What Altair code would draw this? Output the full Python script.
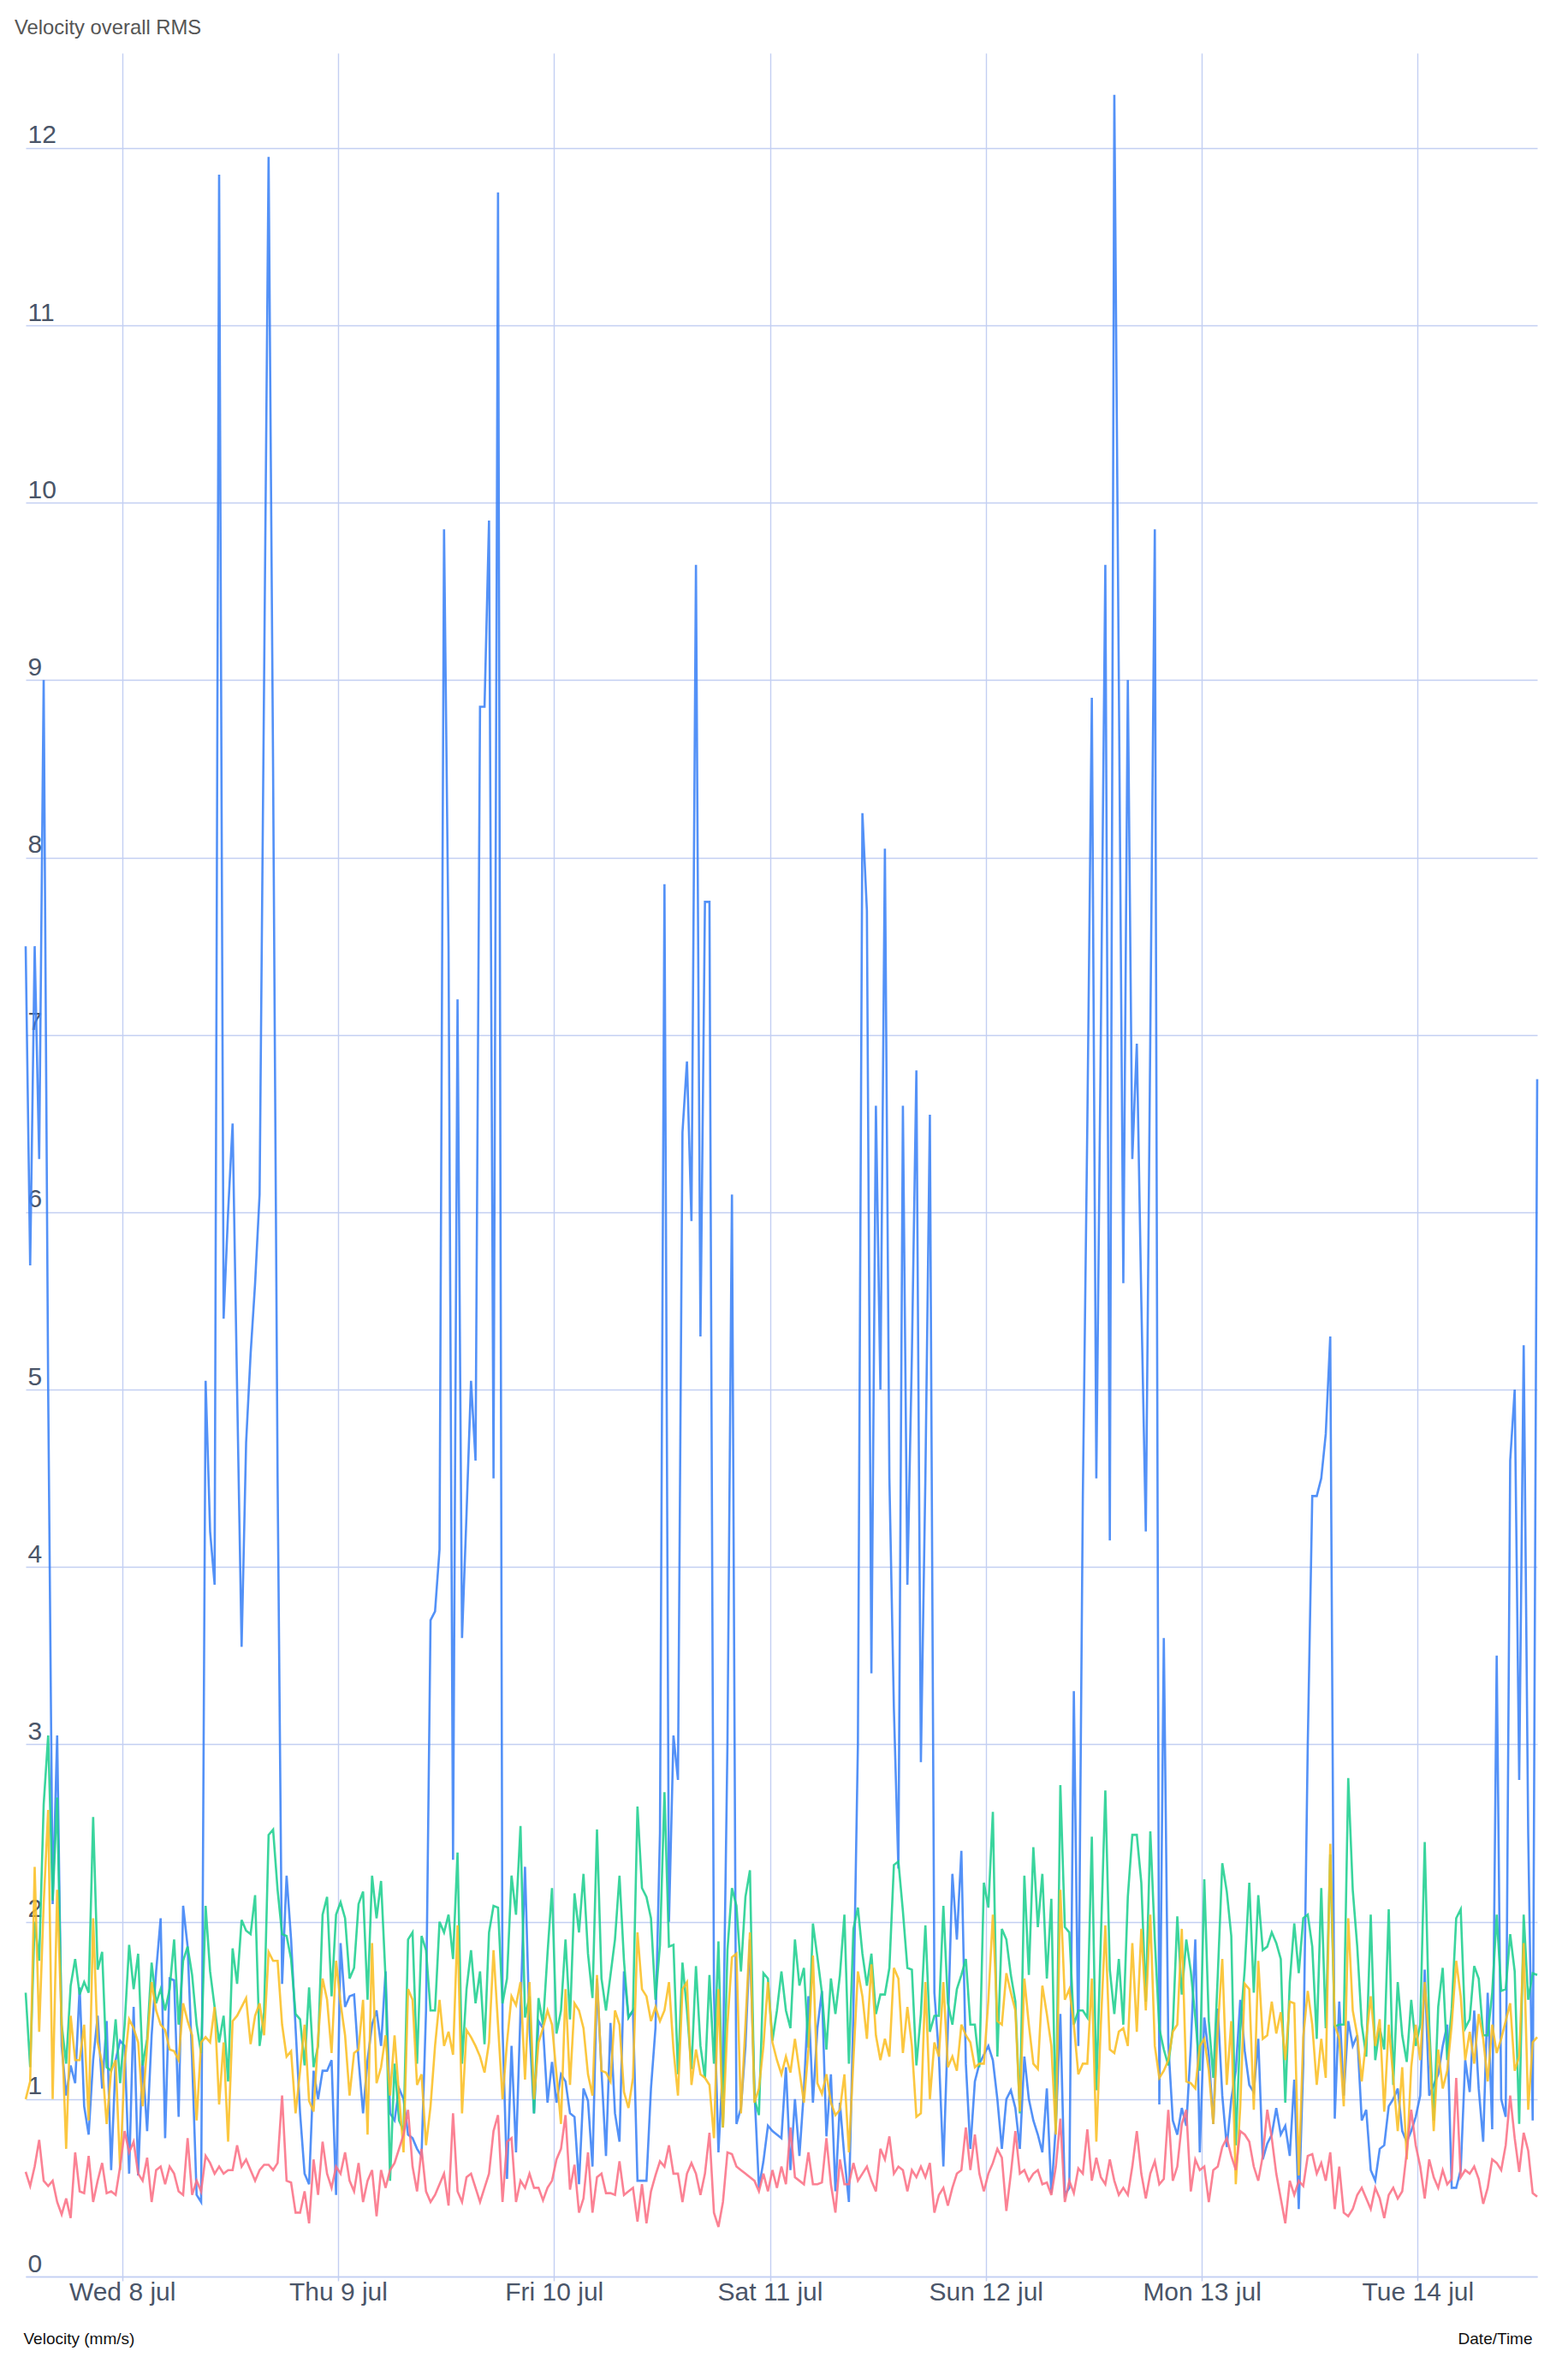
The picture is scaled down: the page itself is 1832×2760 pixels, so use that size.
import altair as alt
import pandas as pd

# ---- data, one sample every 30 min ----
START = "2020-07-07 13:17:00"
N_POINTS = 337

SERIES = ["Sensor 1", "Sensor 2", "Sensor 3", "Sensor 4"]
COLORS = ["#3b82f6", "#1fcf90", "#fbbf24", "#fb7185"]

BLUE = [
    7.5, 5.7, 7.5, 6.3, 9.0, 5.0, 2.1, 3.05, 1.3, 1.02,
    1.19, 1.09, 1.63, 0.96, 0.8, 1.22, 1.47, 1.06, 1.44, 0.60,
    1.22, 1.33, 1.30, 0.58, 1.52, 0.57, 1.22, 0.82, 1.36, 1.72,
    2.02, 0.78, 1.68, 1.67, 0.90, 2.09, 1.86, 1.22, 0.46, 0.42,
    5.05, 4.2, 3.9, 11.85, 5.4, 6.0, 6.5, 5.0, 3.55, 4.7,
    5.2, 5.6, 6.1, 9.0, 11.95, 8.5, 4.5, 1.65, 2.26, 1.9,
    1.4, 0.92, 0.58, 0.52, 1.16, 1.0, 1.16, 1.16, 1.22, 0.46,
    1.88, 1.52, 1.58, 1.59, 1.22, 0.92, 1.22, 1.42, 1.5, 1.3,
    1.72, 0.92, 0.88, 1.06, 1.0, 0.8, 0.78, 0.72, 0.68, 1.5,
    3.7, 3.75, 4.1, 9.85, 7.5, 2.35, 7.2, 3.6, 4.3, 5.05,
    4.6, 8.85, 8.85, 9.9, 4.5, 11.75, 1.4, 0.55, 1.3, 0.70,
    1.5, 2.31, 1.4, 0.92, 1.44, 1.40, 0.98, 1.21, 0.98, 1.14,
    1.1, 0.92, 0.9, 0.52, 1.06, 0.99, 0.62, 1.68, 1.16, 0.68,
    1.43, 0.92, 0.76, 1.72, 1.46, 1.5, 0.54, 0.54, 0.54, 1.06,
    1.4, 2.5, 7.85, 2.0, 3.05, 2.8, 6.45, 6.85, 5.95, 9.65,
    5.3, 7.75, 7.75, 1.6, 0.7, 1.2, 3.0, 6.1, 0.86, 0.95,
    1.3, 1.9, 1.05, 0.5, 0.65, 0.85, 0.82, 0.8, 0.78, 1.18,
    0.6, 1.0, 0.68, 1.05, 1.58, 0.98, 1.4, 1.61, 0.79, 1.14,
    0.48, 0.98, 0.67, 0.42, 1.5, 3.0, 8.25, 7.7, 3.4, 6.6,
    5.0, 8.05, 4.5, 3.2, 2.3, 6.6, 3.9, 5.2, 6.8, 2.9,
    4.5, 6.55, 1.6, 1.25, 0.62, 1.4, 2.27, 1.9, 2.4, 1.2,
    0.72, 1.1, 1.2, 1.25, 1.3, 1.22, 1.0, 0.72, 1.0, 1.05,
    0.95, 0.72, 1.24, 1.0, 0.88, 0.8, 0.7, 1.06, 0.47, 0.85,
    1.48, 0.46, 0.5, 3.3, 1.3, 4.4, 6.5, 8.9, 4.5, 7.0,
    9.65, 4.15, 12.3, 9.0, 5.6, 9.0, 6.3, 6.95, 5.5, 4.2,
    7.0, 9.85, 0.97, 3.6, 1.31, 0.88, 0.8, 0.95, 0.85, 1.3,
    1.9, 0.7, 1.46, 1.25, 0.86, 1.51, 1.02, 0.73, 1.0, 1.16,
    1.56, 1.27, 1.08, 1.04, 1.34, 0.66, 0.75, 0.8, 0.95, 0.8,
    0.85, 0.68, 1.11, 0.38, 1.2, 3.0, 4.4, 4.4, 4.5, 4.75,
    5.3, 0.89, 1.55, 1.02, 1.44, 1.3, 1.36, 0.88, 0.94, 0.6,
    0.54, 0.72, 0.74, 0.96, 1.0, 1.06, 0.82, 0.76, 0.82, 0.9,
    1.02, 1.73, 1.02, 1.08, 1.14, 1.3, 1.42, 0.5, 0.5, 0.6,
    1.22, 1.04, 1.5, 1.06, 0.76, 1.6, 0.83, 3.5, 1.0, 0.9,
    4.6, 5.0, 2.8, 5.25, 2.5, 0.88, 6.75,
]

GREEN = [
    1.60, 1.18, 2.0, 1.78, 2.66, 3.05, 2.12, 2.7, 1.42, 1.2,
    1.64, 1.79, 1.59, 1.66, 1.6, 2.59, 1.73, 1.83, 1.18, 1.16,
    1.45, 1.09, 1.42, 1.87, 1.62, 1.82, 1.19, 1.34, 1.77, 1.54,
    1.62, 1.5, 1.62, 1.9, 1.42, 1.78, 1.86, 1.7, 1.42, 1.26,
    2.09, 1.72, 1.52, 1.32, 1.47, 1.1, 1.85, 1.65, 2.01, 1.95,
    1.93, 2.15, 1.3, 1.49, 2.49, 2.52, 2.18, 1.93, 1.92, 1.79,
    1.48, 1.45, 1.19, 1.63, 1.18, 1.3, 2.04, 2.14, 1.58, 2.04,
    2.11, 2.02, 1.68, 1.74, 2.1, 2.17, 1.56, 2.26, 2.02, 2.23,
    1.68, 0.54, 1.2, 0.88, 0.82, 1.9, 1.94, 1.2, 1.92, 1.84,
    1.5, 1.5, 2.0, 1.94, 2.04, 1.79, 2.39, 1.2, 1.62, 1.84,
    1.54, 1.72, 1.31, 1.94, 2.09, 2.08, 1.54, 1.68, 2.26, 2.04,
    2.54, 1.46, 1.58, 0.92, 1.57, 1.42, 1.82, 2.19, 1.37, 1.5,
    1.9, 1.45, 2.16, 1.94, 2.27, 1.82, 1.57, 2.52, 1.68, 1.5,
    1.7, 1.9, 2.26, 1.78, 1.46, 1.5, 2.65, 2.19, 2.14, 2.02,
    1.56, 1.87, 2.73, 1.86, 1.87, 1.14, 1.77, 1.5, 1.17, 1.75,
    1.3, 1.12, 1.7, 1.2, 1.89, 0.84, 1.84, 2.19, 2.09, 1.72,
    2.14, 2.29, 1.0, 0.91, 1.71, 1.68, 1.33, 1.5, 1.72, 1.5,
    1.4, 1.9, 1.64, 1.74, 1.29, 1.99, 1.8, 1.6, 1.28, 1.68,
    1.48, 1.7, 2.04, 1.2, 1.96, 2.08, 1.82, 1.64, 1.82, 1.48,
    1.59, 1.59, 1.74, 2.32, 2.34, 2.06, 1.74, 1.73, 1.19, 1.48,
    1.98, 1.38, 1.47, 1.47, 2.09, 1.54, 1.42, 1.62, 1.7, 1.79,
    1.42, 1.42, 1.18, 2.22, 2.08, 2.62, 1.24, 1.96, 1.9, 1.7,
    1.55, 0.92, 2.26, 1.7, 2.42, 1.97, 2.27, 1.68, 2.13, 0.82,
    2.77, 1.97, 1.94, 1.42, 1.5, 1.5, 1.46, 2.48, 1.05, 1.9,
    2.74, 1.73, 1.48, 1.79, 1.42, 2.14, 2.49, 2.49, 2.22, 1.55,
    2.51, 1.9, 1.4, 1.28, 1.19, 1.4, 2.03, 1.59, 1.9, 1.72,
    1.46, 1.16, 2.24, 1.44, 1.12, 1.7, 2.33, 2.17, 1.92, 0.74,
    1.4, 1.74, 2.22, 1.6, 2.15, 1.84, 1.86, 1.94, 1.88, 1.79,
    0.98, 1.66, 1.99, 1.71, 2.02, 2.04, 1.86, 1.34, 2.19, 1.4,
    2.38, 1.41, 1.42, 1.42, 2.81, 2.18, 1.86, 1.42, 1.24, 2.04,
    1.22, 1.4, 1.28, 2.07, 1.08, 1.66, 1.36, 1.21, 1.56, 1.3,
    1.42, 2.45, 1.42, 0.88, 1.52, 1.74, 1.22, 1.51, 2.02, 2.07,
    1.4, 1.45, 1.75, 1.68, 1.36, 1.36, 1.6, 2.04, 1.61, 1.62,
    1.93, 1.72, 0.86, 2.04, 1.56, 1.71, 1.7,
]

YELLOW = [
    1.0, 1.1, 2.31, 1.38, 2.1, 2.63, 1.0, 2.18, 1.42, 0.72,
    1.47, 1.22, 1.22, 1.42, 0.88, 2.02, 1.32, 1.2, 0.86, 1.16,
    1.22, 0.6, 1.2, 1.45, 1.4, 1.32, 0.96, 1.3, 1.66, 1.5,
    1.42, 1.39, 1.28, 1.27, 1.22, 1.54, 1.44, 1.36, 0.88, 1.32,
    1.35, 1.32, 1.52, 0.97, 1.32, 0.76, 1.44, 1.47, 1.52, 1.57,
    1.31, 1.47, 1.54, 1.36, 1.83, 1.78, 1.78, 1.42, 1.24, 1.27,
    0.92, 1.16, 1.42, 0.99, 0.93, 1.34, 1.68, 1.56, 1.26, 1.78,
    1.54, 1.36, 1.02, 1.26, 1.28, 1.56, 0.8, 1.88, 1.09, 1.18,
    1.36, 1.02, 1.36, 1.02, 0.7, 1.62, 1.56, 1.08, 1.14, 0.74,
    0.96, 1.3, 1.56, 1.3, 1.38, 1.25, 1.98, 0.92, 1.39, 1.35,
    1.3, 1.24, 1.15, 1.32, 1.84, 1.42, 1.0, 1.32, 1.58, 1.53,
    1.66, 1.11, 1.66, 1.0, 1.32, 1.4, 1.5, 1.42, 1.14, 0.86,
    1.62, 1.08, 1.54, 1.5, 1.4, 1.14, 1.02, 1.7, 1.16, 1.15,
    1.1, 1.5, 1.42, 1.04, 0.95, 1.12, 1.94, 1.62, 1.58, 1.44,
    1.52, 1.44, 1.5, 1.66, 1.28, 1.02, 1.62, 1.66, 1.08, 1.28,
    1.14, 1.12, 1.08, 0.78, 1.62, 0.84, 1.42, 1.8, 1.82, 0.92,
    1.42, 1.94, 0.98, 1.06, 1.3, 1.66, 1.32, 1.22, 1.14, 1.24,
    1.15, 1.34, 1.16, 0.98, 1.28, 1.81, 1.09, 1.03, 1.14, 0.98,
    0.91, 0.94, 1.14, 0.7, 1.22, 1.72, 1.58, 1.34, 1.76, 1.36,
    1.22, 1.34, 1.24, 1.74, 1.68, 1.26, 1.52, 1.3, 0.9, 0.92,
    1.66, 1.0, 1.32, 1.24, 1.66, 1.18, 1.24, 1.16, 1.42, 1.36,
    1.32, 1.18, 1.2, 1.2, 1.56, 2.04, 1.44, 1.42, 1.71, 1.6,
    1.5, 0.93, 1.68, 1.42, 1.2, 1.17, 1.64, 1.48, 1.3, 0.8,
    2.18, 1.56, 1.62, 1.42, 1.14, 1.2, 1.2, 1.68, 0.76, 1.42,
    1.98, 1.28, 1.26, 1.38, 1.4, 1.3, 1.88, 1.38, 1.96, 1.5,
    2.04, 1.3, 1.12, 1.16, 1.22, 1.38, 1.42, 1.96, 1.1, 1.09,
    1.06, 1.3, 1.34, 1.16, 0.86, 1.4, 1.79, 1.08, 1.44, 0.52,
    0.96, 1.65, 1.62, 0.94, 1.78, 1.34, 1.36, 1.55, 1.37, 1.49,
    1.22, 1.55, 1.54, 0.57, 1.35, 1.61, 1.42, 1.08, 1.34, 1.12,
    2.44, 1.42, 1.34, 0.96, 2.02, 1.5, 1.36, 1.1, 1.34, 1.58,
    1.3, 1.45, 0.93, 1.42, 1.12, 0.82, 1.18, 0.66, 1.18, 1.42,
    1.22, 1.66, 1.32, 0.82, 1.28, 1.06, 1.16, 1.42, 1.78, 1.58,
    1.22, 1.38, 1.2, 1.48, 1.34, 1.1, 1.42, 1.26, 1.34, 1.44,
    1.54, 1.16, 1.24, 1.88, 0.94, 1.32, 1.35,
]

RED = [
    0.59, 0.51, 0.62, 0.77, 0.54, 0.51, 0.54, 0.42, 0.35, 0.44,
    0.33, 0.7, 0.48, 0.47, 0.68, 0.42, 0.54, 0.64, 0.47, 0.48,
    0.46, 0.62, 0.82, 0.7, 0.76, 0.58, 0.54, 0.67, 0.42, 0.6,
    0.62, 0.52, 0.62, 0.58, 0.48, 0.46, 0.78, 0.46, 0.54, 0.48,
    0.68, 0.64, 0.58, 0.62, 0.58, 0.6, 0.6, 0.74, 0.62, 0.66,
    0.6, 0.54, 0.6, 0.63, 0.63, 0.6, 0.64, 1.02, 0.54, 0.53,
    0.36, 0.36, 0.48, 0.3, 0.66, 0.46, 0.76, 0.58, 0.5, 0.62,
    0.58, 0.7, 0.54, 0.48, 0.64, 0.42, 0.54, 0.6, 0.34, 0.6,
    0.5, 0.6, 0.64, 0.72, 0.8, 0.94, 0.62, 0.48, 0.72, 0.48,
    0.42, 0.46, 0.52, 0.58, 0.4, 0.92, 0.48, 0.42, 0.56, 0.58,
    0.5, 0.42, 0.5, 0.58, 0.82, 0.91, 0.42, 0.76, 0.78, 0.42,
    0.54, 0.5, 0.58, 0.5, 0.5, 0.43, 0.5, 0.54, 0.66, 0.72,
    0.91, 0.49, 0.63, 0.36, 0.44, 0.7, 0.36, 0.56, 0.58, 0.47,
    0.47, 0.46, 0.65, 0.46, 0.48, 0.5, 0.31, 0.52, 0.3, 0.48,
    0.57, 0.65, 0.62, 0.74, 0.58, 0.58, 0.42, 0.58, 0.64, 0.58,
    0.46, 0.58, 0.81, 0.36, 0.28, 0.42, 0.7, 0.69, 0.62, 0.6,
    0.58, 0.56, 0.54, 0.48, 0.58, 0.48, 0.6, 0.5, 0.62, 0.52,
    0.84, 0.56, 0.54, 0.52, 0.7, 0.52, 0.52, 0.53, 0.78, 0.52,
    0.36, 0.66, 0.52, 0.52, 0.64, 0.54, 0.58, 0.62, 0.54, 0.48,
    0.72, 0.66, 0.79, 0.58, 0.62, 0.6, 0.48, 0.6, 0.56, 0.62,
    0.56, 0.64, 0.36, 0.46, 0.5, 0.4, 0.5, 0.58, 0.6, 0.84,
    0.6, 0.8, 0.58, 0.48, 0.58, 0.64, 0.72, 0.67, 0.37, 0.58,
    0.82, 0.58, 0.6, 0.54, 0.58, 0.6, 0.52, 0.53, 0.46, 0.62,
    0.89, 0.42, 0.54, 0.47, 0.61, 0.58, 0.83, 0.54, 0.67, 0.56,
    0.52, 0.66, 0.54, 0.46, 0.5, 0.46, 0.62, 0.82, 0.58, 0.44,
    0.58, 0.65, 0.52, 0.55, 0.94, 0.54, 0.62, 0.86, 0.94, 0.48,
    0.66, 0.6, 0.62, 0.42, 0.6, 0.62, 0.73, 0.78, 0.68, 0.6,
    0.82, 0.8, 0.76, 0.62, 0.54, 0.68, 0.94, 0.78, 0.58, 0.44,
    0.3, 0.54, 0.46, 0.54, 0.51, 0.68, 0.69, 0.58, 0.64, 0.54,
    0.7, 0.38, 0.62, 0.36, 0.34, 0.38, 0.46, 0.5, 0.44, 0.38,
    0.5, 0.44, 0.33, 0.46, 0.5, 0.44, 0.48, 0.7, 0.94, 0.74,
    0.62, 0.44, 0.66, 0.56, 0.5, 0.6, 0.52, 0.55, 1.12, 0.56,
    0.6, 0.58, 0.62, 0.55, 0.41, 0.5, 0.66, 0.64, 0.6, 0.74,
    1.02, 0.78, 0.59, 0.81, 0.71, 0.47, 0.45,
]

DAY_TICKS = [8, 9, 10, 11, 12, 13, 14]
Y_TICKS = list(range(0, 13))

# ---- build table ----
times = pd.date_range(START, periods=N_POINTS, freq="30min").strftime("%Y-%m-%dT%H:%M:%S")
rows = []
for name, vals in zip(SERIES, [BLUE, GREEN, YELLOW, RED]):
    for t, v in zip(times, vals):
        rows.append({"time": t, "value": v, "series": name})
df = pd.DataFrame(rows)

GRID = "#c3cff2"
LABEL = "#4a5568"
FONT = "Liberation Sans"

x_enc = alt.X(
    "time:T",
    scale=alt.Scale(domain=[
        alt.DateTime(year=2020, month=7, date=7, hours=13, minutes=17),
        alt.DateTime(year=2020, month=7, date=14, hours=13, minutes=17),
    ]),
    axis=alt.Axis(
        values=[alt.DateTime(year=2020, month=7, date=d) for d in DAY_TICKS],
        labelExpr="timeFormat(datum.value, '%a %-d ') + lower(timeFormat(datum.value, '%b'))",
        labelFontSize=30, labelColor=LABEL, labelFont=FONT, labelPadding=-2,
        labelFlush=False, labelOverlap=False,
        tickSize=5, tickColor=GRID, tickWidth=1.5, domainColor=GRID, domainWidth=1.5,
        gridColor=GRID, gridWidth=1.4, grid=True,
        title="Date/Time", titleX=1760, titleY=78, titleAlign="right",
        titleBaseline="alphabetic", titleFontSize=19, titleFontWeight="normal",
        titleColor="#111111", titleFont=FONT,
    ),
)
y_enc = alt.Y(
    "value:Q",
    scale=alt.Scale(domain=[0, 12.535], nice=False, zero=True),
    axis=alt.Axis(
        values=Y_TICKS, format="d",
        labelAlign="left", labelBaseline="alphabetic", labelPadding=-2,
        ticks=False, tickSize=0, labelOffset=-6, domain=False,
        labelFontSize=30, labelColor=LABEL, labelFont=FONT,
        labelFlush=False, labelOverlap=False,
        gridColor=GRID, gridWidth=1.4, grid=True,
        title="Velocity (mm/s)", titleAngle=0, titleX=-3, titleY=2675,
        titleAlign="left", titleBaseline="alphabetic", titleFontSize=19,
        titleFontWeight="normal", titleColor="#111111", titleFont=FONT,
    ),
)

layers = []
for name, col in zip(SERIES, COLORS):
    layers.append(
        alt.Chart(df)
        .transform_filter(alt.datum.series == name)
        .mark_line(strokeWidth=2.6, opacity=0.88, color=col)
        .encode(x=x_enc, y=y_enc)
    )

chart = (
    alt.layer(*layers)
    .properties(
        width=1766,
        height=2597,
        title=alt.TitleParams(
            "Velocity overall RMS", anchor="start", fontSize=23.8,
            fontWeight="normal", color="#555555", font=FONT,
            offset=21, dx=-13, dy=23, baseline="alphabetic", frame="group",
        ),
        autosize=alt.AutoSizeParams(type="none"),
        padding={"left": 22, "top": 54, "right": 20, "bottom": 86},
    )
    .configure_view(strokeWidth=0)
)

chart.save("out.html", embed_options={"renderer": "svg", "actions": False})
